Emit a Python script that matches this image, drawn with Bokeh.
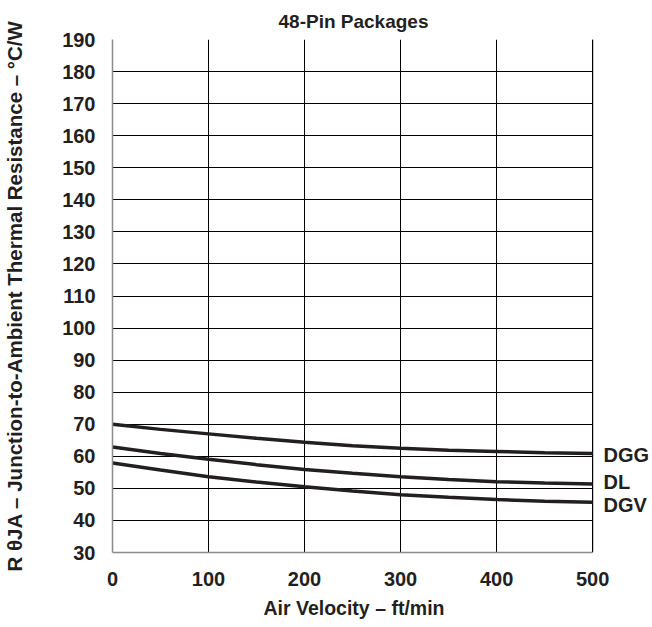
from bokeh.plotting import figure
from bokeh.models import FixedTicker, Range1d, Label, Title
from bokeh.embed import file_html
from bokeh.resources import INLINE

# Data
air_velocity = [0, 50, 100, 150, 200, 250, 300, 350, 400, 450, 500]
dgg = [70.0, 68.4, 67.0, 65.6, 64.4, 63.3, 62.5, 61.9, 61.5, 61.1, 60.9]
dl = [62.9, 60.9, 59.1, 57.4, 55.9, 54.7, 53.6, 52.8, 52.1, 51.7, 51.4]
dgv = [57.9, 55.7, 53.6, 52.0, 50.5, 49.2, 48.0, 47.2, 46.5, 46.0, 45.7]
series_names = ["DGG", "DL", "DGV"]
x_ticks = [0, 100, 200, 300, 400, 500]
y_ticks = list(range(30, 191, 10))
chart_title = "48-Pin Packages"
x_label = "Air Velocity – ft/min"
y_label = "R θJA – Junction-to-Ambient Thermal Resistance – °C/W"

FONT = "Liberation Sans"
INK = "#231f20"

W, H = 652, 627
LEFT = 111
PLOT_W = 481                      # pixel width of the 0..500 grid
frame_w = W - LEFT                # frame runs to the right canvas edge (room for series names)
x_end = x_ticks[-1] * frame_w / PLOT_W

p = figure(width=W, height=H, output_backend="svg", toolbar_location=None,
           x_range=Range1d(x_ticks[0], x_end), y_range=Range1d(y_ticks[0], y_ticks[-1]),
           min_border_left=LEFT, min_border_top=39, min_border_right=0,
           min_border_bottom=75)

# top title, centred over the 0..500 grid
p.title.text = chart_title
p.title.text_font = FONT
p.title.text_font_size = "19px"
p.title.text_font_style = "bold"
p.title.text_color = INK
p.title.align = "left"
p.title.offset = 166
p.title.standoff = 15

p.outline_line_color = None
p.background_fill_color = "white"
p.border_fill_color = "white"

for ax in (p.xaxis[0], p.yaxis[0]):
    ax.major_tick_in = 0
    ax.major_tick_out = 0
    ax.minor_tick_line_color = None
    ax.axis_line_color = "#8c8c8c"
    ax.axis_line_width = 1.5
    ax.major_label_text_font = FONT
    ax.major_label_text_font_size = "20px"
    ax.major_label_text_font_style = "bold"
    ax.major_label_text_color = INK
    ax.axis_label_text_font = FONT
    ax.axis_label_text_font_size = "20.5px"
    ax.axis_label_text_font_style = "bold"
    ax.axis_label_text_color = INK

p.xaxis.bounds = (x_ticks[0], x_ticks[-1])
p.xaxis.ticker = FixedTicker(ticks=x_ticks)
p.yaxis.ticker = FixedTicker(ticks=y_ticks)
p.yaxis.axis_label = y_label
p.xaxis.major_label_standoff = 19
p.yaxis.major_label_standoff = 17
p.yaxis.axis_label_standoff = 33

# x-axis label as a bottom title so it can be centred on the 0..500 grid
p.add_layout(Title(text=x_label, align="left", offset=151, standoff=12,
                   text_font=FONT, text_font_size="19.5px", text_font_style="bold",
                   text_color=INK), "below")

p.xgrid.grid_line_color = "black"
p.ygrid.grid_line_color = "black"
p.xgrid.grid_line_width = 1
p.ygrid.grid_line_width = 1

# blank out the grid beyond the 500 ft/min edge, then draw the right border
p.quad(left=x_ticks[-1], right=x_end * 2, bottom=y_ticks[0] - 50, top=y_ticks[-1] + 50,
       fill_color="white", line_color=None)
p.segment(x0=x_ticks[-1], x1=x_ticks[-1], y0=y_ticks[0], y1=y_ticks[-1],
          line_color="black", line_width=1.2)

series = [dgg, dl, dgv]
for ys in series:
    p.line(air_velocity, ys, line_color=INK, line_width=3.5)

label_dy = [-1.5, 2, -3]
for name, ys, dy in zip(series_names, series, label_dy):
    p.add_layout(Label(x=air_velocity[-1], y=ys[-1], text=name,
                       x_offset=11, y_offset=dy, text_font=FONT,
                       text_font_size="20px", text_font_style="bold",
                       text_color=INK, text_baseline="middle",
                       text_align="left"))

open("out.html", "w").write(file_html(p, INLINE))
